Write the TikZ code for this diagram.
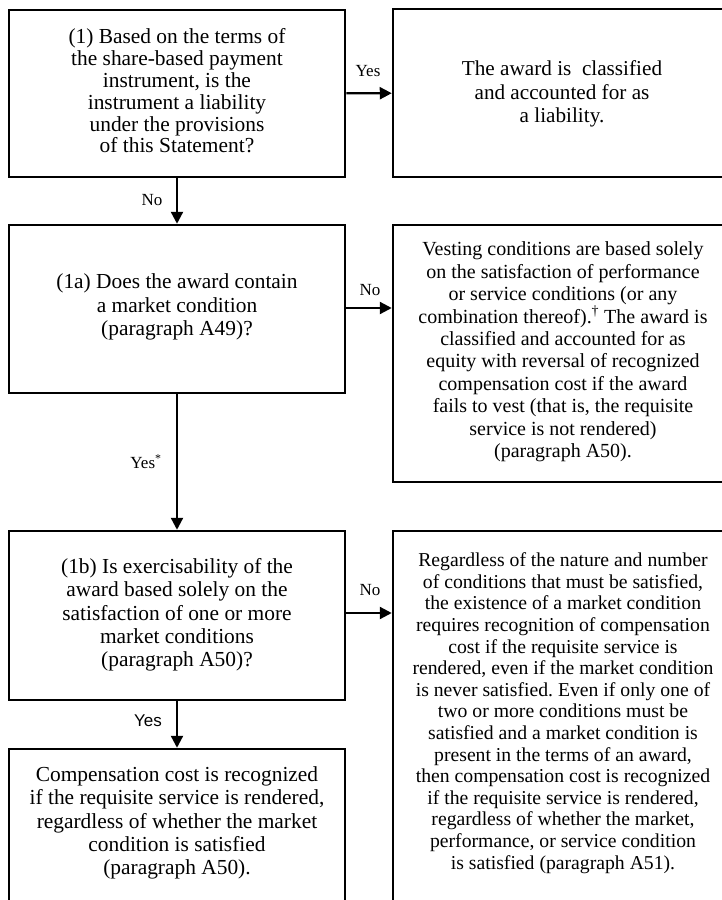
\documentclass[tikz,border=0pt]{standalone}
\usepackage{fontspec}
\setmainfont{Liberation Serif}
\newfontfamily\lblsans{Liberation Sans}
\usetikzlibrary{arrows.meta}
\frenchspacing
\begin{document}
\begin{tikzpicture}[x=1pt,y=-1pt,
  boxstyle/.style={draw, line width=2.5pt, rectangle, inner sep=0pt},
  lefttxt/.style={align=center, inner sep=0pt, font=\fontsize{21.4}{23.3}\selectfont},
  righttxt/.style={align=center, inner sep=0pt, font=\fontsize{19.7}{22}\selectfont},
  lbl/.style={inner sep=0pt, font=\fontsize{17}{19}\selectfont},
  arr/.style={line width=2.3pt, -{Triangle[length=12pt,width=12pt]}}
]
\useasboundingbox (0,0) rectangle (722,900);
\fill[white] (0,0) rectangle (722,900);
\clip (0,0) rectangle (722,900);

% boxes
\node[boxstyle, minimum width=336pt, minimum height=167pt] (b1) at (177,93.5) {};
\node[boxstyle, minimum width=340pt, minimum height=168pt] (r1) at (563,93) {};
\node[boxstyle, minimum width=336pt, minimum height=168pt] (b1a) at (177,309) {};
\node[boxstyle, minimum width=340pt, minimum height=257pt] (r2) at (563,353.5) {};
\node[boxstyle, minimum width=336pt, minimum height=169pt] (b1b) at (177,615.5) {};
\node[boxstyle, minimum width=340pt, minimum height=399pt] (r3) at (563,730.5) {};
\node[boxstyle, minimum width=336pt, minimum height=181pt] (bb) at (177,839.5) {};

% texts
\node[lefttxt, font=\fontsize{21.4}{21.8}\selectfont] (t1) at (177,91) {(1) Based on the terms of\\the share-based payment\\instrument, is the\\instrument a liability\\under the provisions\\of this Statement?};
\node[lefttxt, font=\fontsize{21.2}{23.5}\selectfont] (tr1) at (562,94) {The award is\ \ classified\\and accounted for as\\a liability.};
\node[lefttxt, font=\fontsize{21.4}{23.5}\selectfont] (t1a) at (177,307) {(1a) Does the award contain\\a market condition\\(paragraph A49)?};
\node[righttxt, font=\fontsize{20}{22.4}\selectfont] (tr2) at (563,352) {Vesting conditions are based solely\\on the satisfaction of performance\\or service conditions (or any\\combination thereof).\textsuperscript{†} The award is\\classified and accounted for as\\equity with reversal of recognized\\compensation cost if the award\\fails to vest (that is, the requisite\\service is not rendered)\\(paragraph A50).};
\node[lefttxt] (t1b) at (177,615) {(1b) Is exercisability of the\\award based solely on the\\satisfaction of one or more\\market conditions\\(paragraph A50)?};
\node[righttxt, font=\fontsize{19.7}{21.6}\selectfont] (tr3) at (563,713) {Regardless of the nature and number\\of conditions that must be satisfied,\\the existence of a market condition\\requires recognition of compensation\\cost if the requisite service is\\rendered, even if the market condition\\is never satisfied. Even if only one of\\two or more conditions must be\\satisfied and a market condition is\\present in the terms of an award,\\then compensation cost is recognized\\if the requisite service is rendered,\\regardless of whether the market,\\performance, or service condition\\is satisfied (paragraph A51).};
\node[lefttxt] (tbb) at (177,823) {Compensation cost is recognized\\if the requisite service is rendered,\\regardless of whether the market\\condition is satisfied\\(paragraph A50).};

% connectors
\draw[arr] (b1) -- (r1);
\draw[arr] (b1) -- (b1a);
\draw[arr] ([yshift=1pt]b1a.east) -- ([yshift=1pt]b1a.east -| r2.west);
\draw[arr] (b1a) -- (b1b);
\draw[arr] ([yshift=2.5pt]b1b.east) -- ([yshift=2.5pt]b1b.east -| r3.west);
\draw[arr] (b1b) -- (bb);

% labels
\node[lbl] (lyes1) at (368,71) {Yes};
\node[lbl] (lno1) at (152,200) {No};
\node[lbl] (lno2) at (370,290) {No};
\node[lbl] (lyes2) at (146,462) {Yes\textsuperscript{*}};
\node[lbl] (lno3) at (370,590) {No};
\node[lbl, font=\lblsans\fontsize{17}{19}\selectfont] (lyes3) at (148,721) {Yes};
\end{tikzpicture}
\end{document}
